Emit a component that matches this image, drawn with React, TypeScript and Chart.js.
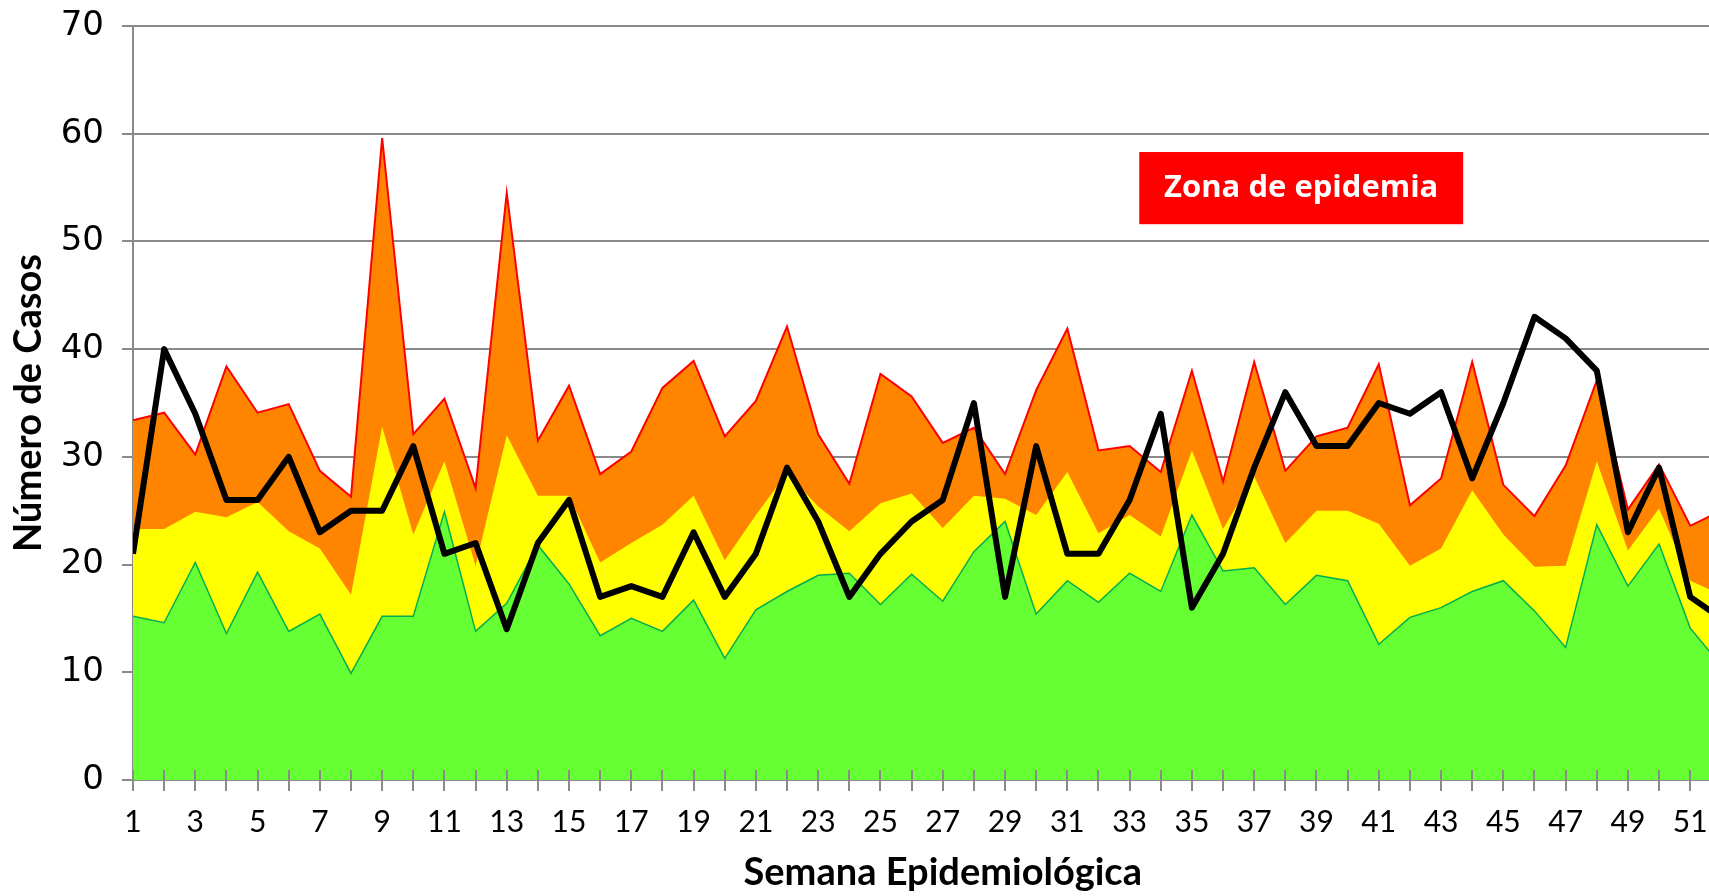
import React, { useEffect, useRef } from "react";
import { Chart, registerables } from "chart.js";

Chart.register(...registerables);

// Semana epidemiológica
const weeks: number[] = Array.from({ length: 52 }, (_, i) => i + 1);

// Límite superior (zona de epidemia / alarma) - línea roja
const upperLimit: number[] = [
  33.4, 34.1, 30.2, 38.4, 34.1, 34.9, 28.7, 26.3, 59.6, 32.1,
  35.4, 27.1, 54.5, 31.5, 36.6, 28.4, 30.5, 36.4, 38.9, 31.9,
  35.2, 42.1, 32.1, 27.5, 37.7, 35.6, 31.3, 32.7, 28.4, 36.2,
  41.9, 30.6, 31.0, 28.6, 38.0, 27.7, 38.8, 28.7, 31.9, 32.7,
  38.6, 25.5, 28.0, 38.8, 27.4, 24.5, 29.2, 37.1, 25.1, 29.3,
  23.6, 25.0,
];

// Mediana (zona de seguridad) - amarillo
const medianLine: number[] = [
  23.3, 23.3, 24.9, 24.4, 25.8, 23.1, 21.5, 17.2, 32.8, 22.8,
  29.6, 19.9, 32.0, 26.4, 26.4, 20.2, 22.0, 23.7, 26.4, 20.4,
  24.6, 28.5, 25.4, 23.1, 25.7, 26.6, 23.4, 26.4, 26.1, 24.6,
  28.6, 22.9, 24.6, 22.6, 30.6, 23.3, 28.2, 22.0, 25.0, 25.0,
  23.8, 19.9, 21.5, 26.9, 22.8, 19.8, 19.9, 29.6, 21.3, 25.2,
  18.5, 17.2,
];

// Límite inferior (zona de éxito) - verde
const lowerLimit: number[] = [
  15.2, 14.6, 20.2, 13.6, 19.3, 13.8, 15.4, 9.9, 15.2, 15.2,
  24.9, 13.8, 16.4, 21.8, 18.2, 13.4, 15.0, 13.8, 16.7, 11.3,
  15.8, 17.5, 19.0, 19.2, 16.3, 19.1, 16.6, 21.2, 24.0, 15.4,
  18.5, 16.5, 19.2, 17.5, 24.6, 19.4, 19.7, 16.3, 19.0, 18.5,
  12.6, 15.1, 16.0, 17.5, 18.5, 15.7, 12.3, 23.7, 18.0, 21.9,
  14.1, 10.6,
];

// Casos del año actual - línea negra
const currentCases: number[] = [
  21, 40, 34, 26, 26, 30, 23, 25, 25, 31,
  21, 22, 14, 22, 26, 17, 18, 17, 23, 17,
  21, 29, 24, 17, 21, 24, 26, 35, 17, 31,
  21, 21, 26, 34, 16, 21, 29, 36, 31, 31,
  35, 34, 36, 28, 35, 43, 41, 38, 23, 29,
  17, 15,
];

const yTicks: number[] = [0, 10, 20, 30, 40, 50, 60, 70];
const xRange: number[] = [1, 53];

const epidemicLabel = "Zona de epidemia";
// label box position in data units: [week start, week end], [cases bottom, cases top]
const labelWeeks: number[] = [33.31, 43.71];
const labelCases: number[] = [51.6, 58.3];

const GRID = "#8a8a8a";

const toPoints = (vals: number[]) => weeks.map((w, i) => ({ x: w, y: vals[i] }));

const crossTicks = {
  id: "crossTicks",
  afterDatasetsDraw(chart: any) {
    const xs = chart.scales.x;
    const ctx = chart.ctx;
    const bottom = chart.chartArea.bottom;
    ctx.save();
    ctx.strokeStyle = GRID;
    ctx.lineWidth = 2;
    xs.ticks.forEach((t: any) => {
      const px = Math.round(xs.getPixelForValue(t.value));
      ctx.beginPath();
      ctx.moveTo(px, bottom - 10);
      ctx.lineTo(px, bottom);
      ctx.stroke();
    });
    ctx.restore();
  },
};

const labelBox = {
  id: "labelBox",
  afterDraw(chart: any) {
    const xs = chart.scales.x;
    const ys = chart.scales.y;
    const ctx = chart.ctx;
    const x1 = xs.getPixelForValue(labelWeeks[0]);
    const x2 = xs.getPixelForValue(labelWeeks[1]);
    const y1 = ys.getPixelForValue(labelCases[1]);
    const y2 = ys.getPixelForValue(labelCases[0]);
    ctx.save();
    ctx.fillStyle = "#FF0000";
    ctx.fillRect(x1, y1, x2 - x1, y2 - y1);
    ctx.fillStyle = "#FFFFFF";
    ctx.font = "bold 31px 'Open Sans'";
    ctx.textAlign = "center";
    ctx.textBaseline = "middle";
    ctx.fillText(epidemicLabel, (x1 + x2) / 2, (y1 + y2) / 2);
    ctx.restore();
  },
};

export default function App() {
  const ref = useRef<HTMLCanvasElement>(null);

  useEffect(() => {
    if (!ref.current) return;
    const chart = new Chart(ref.current, {
      type: "line",
      data: {
        datasets: [
          {
            label: "Casos",
            data: toPoints(currentCases),
            borderColor: "#000000",
            borderWidth: 6,
            borderJoinStyle: "round",
            pointRadius: 0,
            fill: false,
            tension: 0,
            order: 0,
          },
          {
            label: "Éxito",
            data: toPoints(lowerLimit),
            borderColor: "#00B050",
            borderWidth: 1.5,
            backgroundColor: "#66FF33",
            pointRadius: 0,
            fill: "origin",
            tension: 0,
            order: 1,
          },
          {
            label: "Seguridad",
            data: toPoints(medianLine),
            borderColor: "#FFFF00",
            borderWidth: 0,
            backgroundColor: "#FFFF00",
            pointRadius: 0,
            fill: "origin",
            tension: 0,
            order: 2,
          },
          {
            label: "Alarma",
            data: toPoints(upperLimit),
            borderColor: "#FF0000",
            borderWidth: 2,
            backgroundColor: "#FF8500",
            pointRadius: 0,
            fill: "origin",
            tension: 0,
            order: 3,
          },
        ],
      },
      options: {
        responsive: false,
        animation: false,
        devicePixelRatio: 1,
        layout: { padding: { top: 26, right: 37.5, left: 0, bottom: 0 } },
        plugins: {
          legend: { display: false },
          tooltip: { enabled: false },
        },
        scales: {
          x: {
            type: "linear",
            min: xRange[0],
            max: xRange[1],
            afterFit: (s: any) => {
              s.height = 116;
            },
            ticks: {
              stepSize: 1,
              autoSkip: false,
              maxRotation: 0,
              minRotation: 0,
              includeBounds: false,
              callback: (v: any) => (Number(v) % 2 === 1 ? String(v) : ""),
              font: { family: "Lato", size: 30 },
              color: "#000000",
              padding: 13,
            },
            grid: {
              drawOnChartArea: false,
              drawTicks: true,
              tickLength: 11,
              color: GRID,
              lineWidth: 2,
            },
            border: { color: GRID, width: 2 },
            title: {
              display: true,
              text: "Semana Epidemiológica",
              font: { family: "Lato", size: 38, weight: "bold" },
              color: "#000000",
              padding: { top: 0, bottom: 0 },
            },
          },
          y: {
            min: yTicks[0],
            max: yTicks[yTicks.length - 1],
            afterFit: (s: any) => {
              s.width = 133;
              s.paddingTop = 0;
              s.paddingBottom = 0;
            },
            afterBuildTicks: (s: any) => {
              s.ticks = yTicks.map((v) => ({ value: v }));
            },
            ticks: {
              font: { family: "DejaVu Sans", size: 34 },
              color: "#000000",
              padding: 18,
            },
            grid: { color: GRID, lineWidth: 2, tickLength: 11 },
            border: { color: GRID, width: 2 },
            title: {
              display: true,
              text: "Número de Casos",
              font: { family: "Lato", size: 38, weight: "bold" },
              color: "#000000",
              padding: { top: 6, bottom: 0 },
            },
          },
        },
      },
      plugins: [crossTicks, labelBox],
    } as any);
    return () => chart.destroy();
  }, []);

  return (
    <div
      style={{
        position: "fixed",
        left: 0,
        top: 0,
        width: 1709,
        height: 896,
        overflow: "hidden",
        background: "#ffffff",
      }}
    >
      <canvas
        ref={ref}
        width={1790}
        height={896}
        style={{ display: "block", width: 1790, height: 896 }}
      />
    </div>
  );
}
